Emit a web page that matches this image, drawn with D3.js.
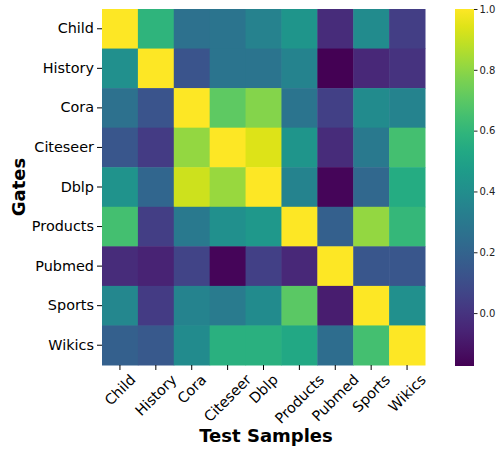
<!DOCTYPE html>
<html><head><meta charset="utf-8">
<script src="https://cdn.jsdelivr.net/npm/d3@7"></script>
<style>body{margin:0;background:#fff}svg{display:block;font-family:"DejaVu Sans",sans-serif}</style>
</head><body><svg id="c" width="496" height="450"></svg>
<script>
const rowLabels = ["Child","History","Cora","Citeseer","Dblp","Products","Pubmed","Sports","Wikics"];
const colLabels = ["Child","History","Cora","Citeseer","Dblp","Products","Pubmed","Sports","Wikics"];
const values = [
  [1.00, 0.59, 0.26, 0.28, 0.34, 0.44, -0.03, 0.39, 0.04],
  [0.41, 1.00, 0.13, 0.28, 0.28, 0.35, -0.17, -0.045, 0.00],
  [0.26, 0.13, 1.00, 0.71, 0.78, 0.28, 0.05, 0.39, 0.35],
  [0.14, 0.03, 0.81, 1.00, 0.94, 0.44, -0.03, 0.30, 0.65],
  [0.43, 0.21, 0.91, 0.82, 1.00, 0.35, -0.16, 0.22, 0.55],
  [0.65, 0.04, 0.30, 0.41, 0.45, 1.00, 0.18, 0.81, 0.61],
  [-0.03, -0.06, 0.06, -0.16, 0.05, -0.045, 1.00, 0.14, 0.14],
  [0.37, 0.03, 0.35, 0.31, 0.39, 0.70, -0.08, 1.00, 0.41],
  [0.18, 0.15, 0.39, 0.57, 0.57, 0.53, 0.24, 0.65, 1.00]
];
const colorTicks = [0.0, 0.2, 0.4, 0.6, 0.8, 1.0];
const vmin = -0.174, vmax = 1.0;

const svg = d3.select("#c");
const L = 102, R = 425, T = 9, B = 365;
const x = d3.scaleBand().domain(colLabels).range([L, R]);
const y = d3.scaleBand().domain(rowLabels).range([T, B]);
const color = d3.scaleSequential(d3.interpolateViridis).domain([vmin, vmax]);

const cells = [];
values.forEach((row, i) => row.forEach((v, j) => cells.push({r: rowLabels[i], c: colLabels[j], v})));
svg.append("g").selectAll("rect").data(cells).join("rect")
  .attr("x", d => x(d.c)).attr("y", d => y(d.r))
  .attr("width", x.bandwidth() + 0.5).attr("height", y.bandwidth() + 0.5)
  .attr("fill", d => color(d.v));

const FS = 14.4;
// y axis
const yAxis = svg.append("g").attr("transform", `translate(${L},0)`)
  .call(d3.axisLeft(y).tickSize(5).tickPadding(3));
yAxis.select(".domain").remove();
yAxis.selectAll("text").attr("font-size", FS).attr("fill", "#000").attr("font-family", "DejaVu Sans");
yAxis.selectAll("line").attr("stroke", "#000");

// x axis
const xAxis = svg.append("g").attr("transform", `translate(0,${B})`)
  .call(d3.axisBottom(x).tickSize(5).tickPadding(3));
xAxis.select(".domain").remove();
xAxis.selectAll("line").attr("stroke", "#000");
xAxis.selectAll("text").attr("font-size", FS).attr("fill", "#000").attr("font-family", "DejaVu Sans")
  .each(function(d) {
    const t = d3.select(this);
    const w = this.getComputedTextLength();
    const h = FS * 0.9;
    const bh = (w + h) * Math.SQRT1_2;
    const cy = 7.5 + bh / 2;
    t.attr("x", 0).attr("y", 0).attr("dy", "0.35em").attr("text-anchor", "middle")
      .attr("transform", `translate(0,${cy}) rotate(-45)`);
  });

// axis titles
svg.append("text").attr("x", 266).attr("y", 442).attr("text-anchor", "middle")
  .attr("font-size", 18).attr("font-weight", "bold").text("Test Samples");
svg.append("text").attr("transform", `translate(25,${(T + B) / 2}) rotate(-90)`)
  .attr("text-anchor", "middle").attr("font-size", 18).attr("font-weight", "bold").text("Gates");

// colorbar
const cbL = 455, cbR = 474, cbT = 9, cbB = 366;
const cyS = d3.scaleLinear().domain([vmin, vmax]).range([cbB, cbT]);
const defs = svg.append("defs");
const grad = defs.append("linearGradient").attr("id", "vg").attr("x1", 0).attr("x2", 0).attr("y1", 1).attr("y2", 0);
d3.range(0, 1.0001, 0.05).forEach(t => grad.append("stop").attr("offset", t).attr("stop-color", d3.interpolateViridis(t)));
svg.append("rect").attr("x", cbL).attr("y", cbT).attr("width", cbR - cbL).attr("height", cbB - cbT).attr("fill", "url(#vg)");
const cAxis = svg.append("g").attr("transform", `translate(${cbR},0)`)
  .call(d3.axisRight(cyS).tickValues(colorTicks).tickFormat(d3.format(".1f")).tickSize(3.5).tickPadding(2));
cAxis.select(".domain").remove();
cAxis.selectAll("line").attr("stroke", "#222");
cAxis.selectAll("text").attr("font-size", 10).attr("fill", "#222").attr("font-family", "DejaVu Sans");
</script></body></html>
